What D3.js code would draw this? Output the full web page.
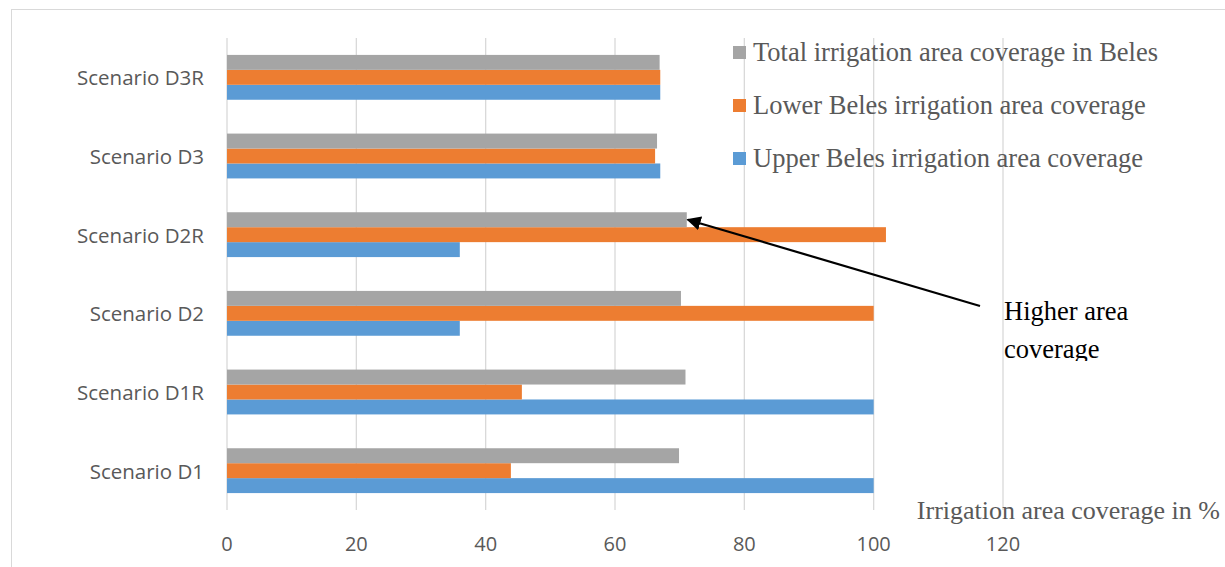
<!DOCTYPE html>
<html>
<head>
<meta charset="utf-8">
<script src="https://cdn.jsdelivr.net/npm/d3@7/dist/d3.min.js"></script>
<style>
  body { margin: 0; background: #fff; }
  .cat-label, .tick-label { font-family: "Open Sans", "Noto Sans", sans-serif; fill: #595959; }
  .serif { font-family: "Liberation Serif", "Times New Roman", serif; }
</style>
</head>
<body>
<svg id="chart" width="1225" height="567"></svg>
<script>
const categories = ['Scenario D1', 'Scenario D1R', 'Scenario D2', 'Scenario D2R', 'Scenario D3', 'Scenario D3R'];
const upperBeles = [100, 100, 36, 36, 67, 67];
const lowerBeles = [43.9, 45.6, 100, 101.9, 66.2, 67];
const totalBeles = [69.9, 70.9, 70.2, 71.1, 66.5, 66.9];
const xTicks = [0, 20, 40, 60, 80, 100, 120];

// legend is listed top-to-bottom, bars are drawn bottom-to-top inside a band
const series = [
    {name: 'Upper Beles irrigation area coverage', values: upperBeles, color: '#5b9bd5'},
    {name: 'Lower Beles irrigation area coverage', values: lowerBeles, color: '#ed7d31'},
    {name: 'Total irrigation area coverage in Beles', values: totalBeles, color: '#a5a5a5'},
];

const svg = d3.select('#chart');

// outer chart border
svg.append('rect')
    .attr('x', 11.5).attr('y', 9.5)
    .attr('width', 1240).attr('height', 600)
    .attr('fill', 'none')
    .attr('stroke', '#d9d9d9');

const x = d3.scaleLinear().domain([0, 120]).range([227, 1003]);
// categories go bottom (D1) to top (D3R)
const y = d3.scaleBand().domain(categories.slice().reverse()).range([38, 510]).paddingInner(0.43).paddingOuter(0.215);
const inner = d3.scaleBand().domain(['2', '1', '0']).range([0, y.bandwidth()]);

// gridlines
svg.append('g').selectAll('line')
    .data(xTicks)
    .enter()
    .append('line')
    .attr('x1', d => x(d)).attr('x2', d => x(d))
    .attr('y1', 38).attr('y2', 510)
    .attr('stroke', '#d9d9d9')
    .attr('stroke-width', 1.3);

// bars
series.forEach((s, si) => {
    svg.append('g').selectAll('rect')
        .data(categories)
        .enter()
        .append('rect')
        .attr('x', x(0))
        .attr('y', d => y(d) + inner(String(si)))
        .attr('width', (d, i) => x(s.values[i]) - x(0))
        .attr('height', inner.bandwidth())
        .attr('fill', s.color);
});

// category labels
svg.append('g').selectAll('text')
    .data(categories)
    .enter()
    .append('text')
    .attr('class', 'cat-label')
    .attr('x', 204)
    .attr('y', d => y(d) + y.bandwidth() / 2 + 8)
    .attr('text-anchor', 'end')
    .attr('font-size', 20.5)
    .text(d => d);

// tick labels
svg.append('g').selectAll('text')
    .data(xTicks)
    .enter()
    .append('text')
    .attr('class', 'tick-label')
    .attr('x', d => x(d))
    .attr('y', 551)
    .attr('text-anchor', 'middle')
    .attr('font-size', 20)
    .text(d => d);

// axis title
svg.append('text')
    .attr('class', 'serif')
    .attr('x', 1220)
    .attr('y', 519)
    .attr('text-anchor', 'end')
    .attr('font-size', 26)
    .attr('fill', '#595959')
    .text('Irrigation area coverage in %');

// legend
const legend = svg.append('g');
series.slice().reverse().forEach((s, i) => {
    const ly = 52 + i * 53;
    legend.append('rect')
        .attr('x', 733).attr('y', ly - 6)
        .attr('width', 13).attr('height', 13)
        .attr('fill', s.color);
    legend.append('text')
        .attr('class', 'serif')
        .attr('x', 753)
        .attr('y', ly + 9)
        .attr('font-size', 26.5)
        .attr('fill', '#595959')
        .text(s.name);
});

// annotation arrow
svg.append('defs').append('marker')
    .attr('id', 'arrow')
    .attr('viewBox', '0 0 10 10')
    .attr('refX', 9).attr('refY', 5)
    .attr('markerWidth', 6.5).attr('markerHeight', 6.5)
    .attr('orient', 'auto')
    .append('path')
    .attr('d', 'M0,0 L10,5 L0,10 z')
    .attr('fill', '#000');

const tipValue = totalBeles[3];
svg.append('line')
    .attr('x1', 980).attr('y1', 306)
    .attr('x2', x(tipValue) + 1).attr('y2', y('Scenario D2R') + inner('2') + inner.bandwidth() / 2)
    .attr('stroke', '#000')
    .attr('stroke-width', 2.2)
    .attr('marker-end', 'url(#arrow)');

// annotation text, clipped at the bottom like its text box
svg.select('defs').append('clipPath')
    .attr('id', 'noteClip')
    .append('rect')
    .attr('x', 990).attr('y', 280).attr('width', 235).attr('height', 81);

const note = svg.append('text')
    .attr('class', 'serif')
    .attr('clip-path', 'url(#noteClip)')
    .attr('font-size', 26.5)
    .attr('fill', '#000');
note.append('tspan').attr('x', 1004).attr('y', 320).text('Higher area');
note.append('tspan').attr('x', 1004).attr('y', 358).text('coverage');
</script>
</body>
</html>
